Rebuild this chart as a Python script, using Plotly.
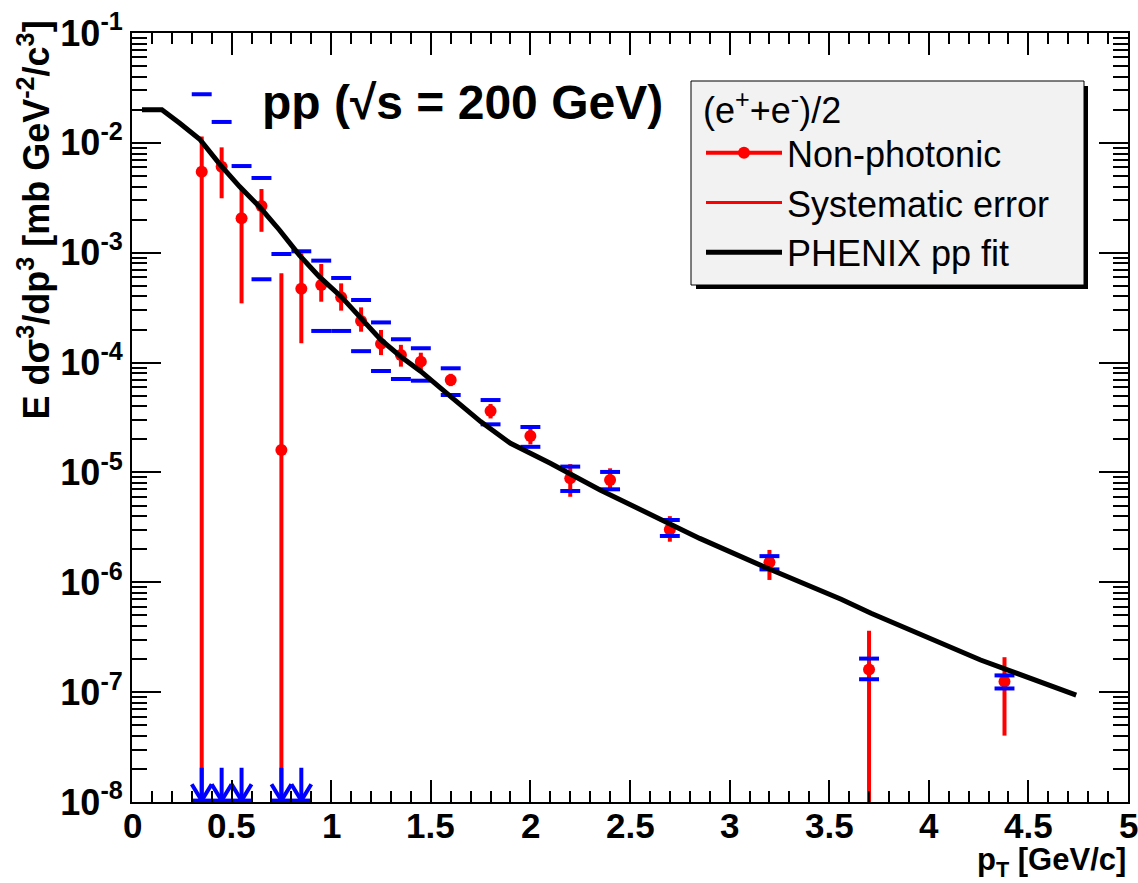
import numpy as np
import plotly.graph_objects as go

# ---------------- data ----------------
pt = [0.35, 0.45, 0.55, 0.65, 0.75, 0.85, 0.95, 1.05, 1.15, 1.25, 1.35, 1.45,
      1.6, 1.8, 2.0, 2.2, 2.4, 2.7, 3.2, 3.7, 4.38]
val = [5.46e-3, 6.07e-3, 2.06e-3, 2.66e-3, 1.6e-5, 4.71e-4, 5.08e-4, 3.93e-4,
       2.39e-4, 1.48e-4, 1.17e-4, 1.02e-4, 6.94e-5, 3.62e-5, 2.15e-5, 8.83e-6,
       8.53e-6, 3.03e-6, 1.52e-6, 1.61e-7, 1.25e-7]
stat_hi = [1.14e-2, 9.1e-3, 3.86e-3, 3.8e-3, 6.5e-4, 9.87e-4, 7.89e-4, 5.26e-4,
           3.18e-4, 1.98e-4, 1.45e-4, 1.23e-4, 7.9e-5, 4.2e-5, 2.5e-5, 1.19e-5,
           1.09e-5, 4.0e-6, 1.97e-6, 3.62e-7, 2.08e-7]
# None = bar runs off the bottom of the plot
stat_lo = [None, 3.13e-3, 3.46e-4, 1.55e-3, None, 1.5e-4, 3.58e-4, 2.97e-4,
           1.91e-4, 1.17e-4, 9.18e-5, 8.26e-5, 6.1e-5, 3.1e-5, 1.8e-5, 6.0e-6,
           6.8e-6, 2.34e-6, 1.05e-6, None, 4.02e-8]
sys_hi = [2.77e-2, 1.55e-2, 6.15e-3, 4.79e-3, 9.73e-4, 1.03e-3, 8.47e-4, 5.89e-4,
          3.71e-4, 2.32e-4, 1.63e-4, 1.35e-4, 8.87e-5, 4.56e-5, 2.59e-5, 1.13e-5,
          1.01e-5, 3.69e-6, 1.73e-6, 2.02e-7, 1.42e-7]
# None = lower systematic below the plot range (drawn as an arrow)
sys_lo = [None, None, None, 5.73e-4, None, None, 1.94e-4, 1.94e-4, 1.27e-4,
          8.38e-5, 7.09e-5, 6.84e-5, 5.07e-5, 2.74e-5, 1.71e-5, 6.78e-6, 7.02e-6,
          2.64e-6, 1.31e-6, 1.31e-7, 1.08e-7]

fit_pt = [0.05, 0.15, 0.24, 0.34, 0.44, 0.54, 0.64, 0.74, 0.84, 0.94, 1.05,
          1.15, 1.25, 1.35, 1.45, 1.6, 1.75, 1.9, 2.1, 2.35, 2.55, 2.85, 3.19,
          3.56, 3.71, 4.01, 4.26, 4.74]
fit_val = [2.0e-2, 2.0e-2, 1.51e-2, 1.08e-2, 6.4e-3, 4.0e-3, 2.62e-3, 1.61e-3,
           9.5e-4, 6.05e-4, 3.98e-4, 2.53e-4, 1.61e-4, 1.13e-4, 8.3e-5, 4.89e-5,
           2.9e-5, 1.84e-5, 1.21e-5, 6.92e-6, 4.62e-6, 2.51e-6, 1.34e-6, 7.0e-7,
           5.22e-7, 3.09e-7, 1.96e-7, 9.4e-8]

y_exponents = [-8, -7, -6, -5, -4, -3, -2, -1]
x_ticks = [0, 0.5, 1, 1.5, 2, 2.5, 3, 3.5, 4, 4.5, 5]

# ---------------- style ----------------
FONT = "Liberation Sans"
RED = "#ff0000"
BLUE = "#0000ff"
CAP_HALF = 0.05          # half width of systematic caps (GeV/c)
FLOOR = 1e-9             # below plot range
ARROW_TOP = 2.05e-8
ARROW_HEAD = 1.45e-8
ARROW_TIP = 1.03e-8
L, R, T, B = 132, 10, 33, 81
W, H = 1138, 883
PW, PH = W - L - R, H - T - B


def px_x(x):
    return (x - L) / PW


def px_y(y):
    return 1 - (y - T) / PH


fig = go.Figure()

fit_trace = go.Scatter(x=fit_pt, y=fit_val, mode="lines",
                       line=dict(color="black", width=5),
                       showlegend=False, hoverinfo="skip")

v = np.array(val)
hi = np.array(stat_hi)
lo = np.array([FLOOR if s is None else s for s in stat_lo])
pts_trace = go.Scatter(
    x=pt, y=val, mode="markers",
    marker=dict(color=RED, size=12, line=dict(width=0)),
    error_y=dict(type="data", symmetric=False, array=hi - v, arrayminus=v - lo,
                 color=RED, thickness=4, width=0),
    showlegend=False)

cx, cy = [], []
for p, sh, sl in zip(pt, sys_hi, sys_lo):
    cx += [p - CAP_HALF, p + CAP_HALF, None]
    cy += [sh, sh, None]
    low = ARROW_TIP if sl is None else sl
    cx += [p - CAP_HALF, p + CAP_HALF, None]
    cy += [low, low, None]
caps_trace = go.Scatter(x=cx, y=cy, mode="lines",
                        line=dict(color=BLUE, width=4),
                        showlegend=False, hoverinfo="skip")

ax_, ay_ = [], []
for p, sl in zip(pt, sys_lo):
    if sl is None:
        ax_ += [p, p, None, p - CAP_HALF, p, p + CAP_HALF, None]
        ay_ += [ARROW_TOP, ARROW_TIP, None, ARROW_HEAD, ARROW_TIP, ARROW_HEAD, None]
arrow_trace = go.Scatter(x=ax_, y=ay_, mode="lines",
                         line=dict(color=BLUE, width=4),
                         showlegend=False, hoverinfo="skip")

fig.add_trace(pts_trace)
fig.add_trace(caps_trace)
fig.add_trace(arrow_trace)
fig.add_trace(fit_trace)

# legend entries
fig.add_trace(go.Scatter(x=[None], y=[None], mode="lines+markers",
                         name="Non-photonic",
                         line=dict(color=RED, width=4),
                         marker=dict(color=RED, size=12)))
fig.add_trace(go.Scatter(x=[None], y=[None], mode="lines",
                         name="Systematic error",
                         line=dict(color=RED, width=3)))
fig.add_trace(go.Scatter(x=[None], y=[None], mode="lines",
                         name="PHENIX pp fit",
                         line=dict(color="black", width=5)))

minor_y = [m * 10.0 ** e for e in range(-8, -1) for m in range(2, 10)]

fig.update_layout(
    width=W, height=H,
    margin=dict(l=L, r=R, t=T, b=B, pad=0, autoexpand=False),
    paper_bgcolor="white", plot_bgcolor="white",
    font=dict(family=FONT, color="black"),
    xaxis=dict(range=[0, 5], tickvals=x_ticks, showticklabels=False,
               ticks="inside", ticklen=22, tickwidth=2, tickcolor="black",
               minor=dict(dtick=0.1, ticks="inside", ticklen=11, tickwidth=2,
                          tickcolor="black", showgrid=False),
               showline=True, linecolor="black", linewidth=2, mirror="ticks",
               showgrid=False, zeroline=False, automargin=False),
    yaxis=dict(type="log", range=[-8, -1],
               tickvals=[10.0 ** e for e in y_exponents],
               ticktext=[f"<b>10<sup>{e}</sup></b>" for e in y_exponents],
               ticks="inside", ticklen=29, tickwidth=2, tickcolor="black",
               minor=dict(tickmode="array", tickvals=minor_y, ticks="inside",
                          ticklen=15, tickwidth=2, tickcolor="black",
                          showgrid=False),
               showline=True, linecolor="black", linewidth=2, mirror="ticks",
               showgrid=False, zeroline=False, automargin=False,
               tickfont=dict(size=36, family=FONT)),
    legend=dict(x=px_x(701), y=px_y(76), xanchor="left", yanchor="top",
                bgcolor="rgba(0,0,0,0)", borderwidth=0,
                font=dict(size=36, family=FONT),
                title=dict(text="(e<sup>+</sup>+e<sup>-</sup>)/2",
                           font=dict(size=36, family=FONT)),
                itemwidth=76, tracegroupgap=0),
    showlegend=True,
)

# x tick labels (placed as the reference does, close under the axis)
for t in x_ticks:
    fig.add_annotation(text=f"<b>{t:g}</b>", xref="x", yref="paper",
                       x=t, y=px_y(825), xanchor="center", yanchor="middle",
                       showarrow=False, font=dict(size=35, family=FONT))

# legend shadow and box
fig.add_shape(type="rect", xref="paper", yref="paper",
              x0=px_x(696), x1=px_x(1088), y0=px_y(289), y1=px_y(86),
              fillcolor="black", line=dict(width=0), layer="above")
fig.add_shape(type="rect", xref="paper", yref="paper",
              x0=px_x(691), x1=px_x(1084), y0=px_y(285), y1=px_y(81),
              fillcolor="#f2f2f2", line=dict(color="black", width=1),
              layer="above")

fig.add_annotation(text="<b>pp (√s = 200 GeV)</b>", xref="paper", yref="paper",
                   x=px_x(260), y=px_y(102),
                   xanchor="left", yanchor="middle", showarrow=False,
                   font=dict(size=48, family=FONT))
fig.add_annotation(text="<b>E dσ<sup>3</sup>/dp<sup>3</sup> [mb GeV<sup>-2</sup>/c<sup>3</sup>]</b>",
                   xref="paper", yref="paper", textangle=-90,
                   x=px_x(33), y=px_y(19),
                   xanchor="center", yanchor="top", showarrow=False,
                   font=dict(size=36, family=FONT))
fig.add_annotation(text="<b>p<sub>T</sub> [GeV/c]</b>",
                   xref="paper", yref="paper",
                   x=px_x(1128), y=px_y(862),
                   xanchor="right", yanchor="middle", showarrow=False,
                   font=dict(size=31, family=FONT))

fig.write_html("out.html")
